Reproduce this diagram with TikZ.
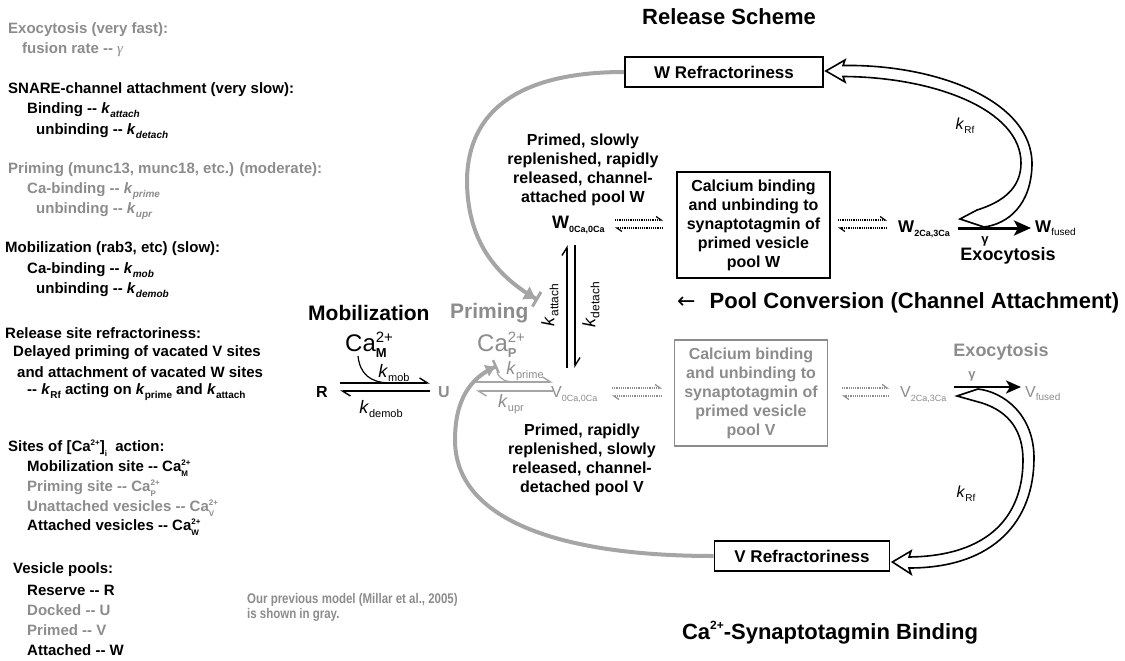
\documentclass[tikz,border=0pt]{standalone}
\usepackage{fontspec}
\setmainfont{Liberation Sans}
\newfontfamily\dejavu{DejaVu Sans}
\newfontfamily\timesf{Liberation Serif}
\usetikzlibrary{arrows.meta}
\definecolor{tg}{RGB}{140,140,140}
\definecolor{cg}{RGB}{165,165,165}
\newcommand{\fs}[1]{\fontsize{#1}{#1}\selectfont}
\newcommand{\sbb}[2][10]{\raisebox{-0.25em}{\fs{#1}#2}}
\newcommand{\cas}[2]{Ca\makebox[0pt][l]{\raisebox{-0.3em}{\fs{8}#1}}\raisebox{0.45em}{\fs{8}#2}}
\newcommand{\kit}[1]{\textit{k}\sbb{\textit{#1}}}
\newcommand{\kup}[1]{\textit{k}\sbb{#1}}
\begin{document}
\begin{tikzpicture}[x=1pt,y=-1pt,
  lt/.style={anchor=west,inner sep=0pt,font=\fs{15}\bfseries},
  hp/.style={line width=1.4pt,-{Straight Barb[left,length=8pt,width=10pt]}},
  dhp/.style={line width=1.2pt,densely dotted,-{Straight Barb[left,length=5pt,width=7pt]}},
  gcurve/.style={cg,line width=4pt,-{Triangle[length=11pt,width=14pt]Bar[width=17pt,line width=3pt]}},
  blk/.style={draw,line width=1.6pt,fill=white,line join=miter},
  klab/.style={inner sep=0pt,font=\fs{18}},
  desc/.style={align=center,inner sep=0pt,font=\fontsize{16}{19}\selectfont\bfseries},
  cbox/.style={draw,line width=1.8pt,minimum width=153pt,minimum height=106pt,align=center,inner sep=0pt,font=\fontsize{16}{19}\selectfont\bfseries},
  rbox/.style={draw,line width=1.8pt,minimum height=30pt,inner sep=0pt,font=\fs{17}\bfseries}]
\useasboundingbox (0,0) rectangle (1125,661);

% ---------------- left column ----------------
\node[lt,tg] (l1) at (8,30) {Exocytosis (very fast):};
\node[lt,tg] (l2) at (22,50) {fusion rate -{}- {\timesf\mdseries\itshape γ}};
\node[lt] (l3) at (8,90) {SNARE-channel attachment (very slow):};
\node[lt] (l4) at (27,110) {Binding -{}- \kit{attach}};
\node[lt] (l5) at (36,131) {unbinding -{}- \kit{detach}};
\node[lt,tg] (l6) at (8,170) {Priming (munc13, munc18, etc.) (moderate):};
\node[lt,tg] (l7) at (27,191) {Ca-binding -{}- \kit{prime}};
\node[lt,tg] (l8) at (36,211) {unbinding -{}- \kit{upr}};
\node[lt] (l9) at (5,249) {Mobilization (rab3, etc) (slow):};
\node[lt] (l10) at (27,270) {Ca-binding -{}- \kit{mob}};
\node[lt] (l11) at (36,290) {unbinding -{}- \kit{demob}};
\node[lt] (l12) at (5,333) {Release site refractoriness:};
\node[lt] (l13) at (13,353) {Delayed priming of vacated V sites};
\node[lt] (l14) at (17,372) {and attachment of vacated W sites};
\node[lt] (l15) at (27,392) {-{}- \kup{Rf} acting on \kup{prime} and \kup{attach}};
\node[lt] (l16) at (8,448) {Sites of [Ca\raisebox{0.45em}{\fs{8}2+}]\raisebox{-0.3em}{\fs{8}i}\ \ action:};
\node[lt] (l17) at (27,468) {Mobilization site -{}- \cas{M}{2+}};
\node[lt,tg] (l18) at (27,488) {Priming site -{}- \cas{P}{2+}};
\node[lt,tg] (l19) at (27,508) {Unattached vesicles -{}- \cas{V}{2+}};
\node[lt] (l20) at (27,527) {Attached vesicles -{}- \cas{W}{2+}};
\node[lt] (l21) at (13,570) {Vesicle pools:};
\node[lt] (l22) at (27,590) {Reserve -{}- R};
\node[lt,tg] (l23) at (27,610) {Docked -{}- U};
\node[lt,tg] (l24) at (27,630) {Primed -{}- V};
\node[lt] (l25) at (27,650) {Attached -{}- W};

\node[anchor=west,inner sep=0pt,tg,font=\fontsize{14}{15}\selectfont\bfseries,align=left,xscale=0.82] (note) at (247,607) {Our previous model (Millar et al., 2005)\\is shown in gray.};

% ---------------- titles ----------------
\node[font=\fs{22}\bfseries] (t1) at (729,17) {Release Scheme};
\node[font=\fs{22}\bfseries] (t2) at (830,633) {Ca\raisebox{0.45em}{\fs{12}2+}-Synaptotagmin Binding};

% ---------------- boxes ----------------
\node[rbox,minimum width=198pt] (wref) at (724,72) {W Refractoriness};
\node[rbox,minimum width=175pt] (vref) at (802,556) {V Refractoriness};
\node[cbox] (wbox) at (753.5,225) {Calcium binding\\and unbinding to\\synaptotagmin of\\primed vesicle\\pool W};
\node[cbox,draw=tg,text=tg] (vbox) at (751,393) {Calcium binding\\and unbinding to\\synaptotagmin of\\primed vesicle\\pool V};

\node[desc] (wdesc) at (583,170) {Primed, slowly\\replenished, rapidly\\released, channel-\\attached pool W};
\node[desc] (vdesc) at (582,460) {Primed, rapidly\\replenished, slowly\\released, channel-\\detached pool V};

% ---------------- W row ----------------
\node[anchor=base west,inner sep=0pt,font=\fs{18}\bfseries] (w0) at (552,228) {W\raisebox{-4pt}{\fs{9}0Ca,0Ca}};
\node[anchor=base west,inner sep=0pt,font=\fs{17}\bfseries] (w2) at (898,232) {W\raisebox{-4pt}{\fs{9}2Ca,3Ca}};
\node[anchor=base west,inner sep=0pt,font=\fs{17}\bfseries] (wf) at (1035,232) {W\raisebox{-3pt}{\fs{10}\mdseries fused}};
\node[font=\fs{13}\bfseries,inner sep=0pt] (gw) at (985,241) {γ};
\node[font=\fs{18}\bfseries,inner sep=0pt] (exw) at (1008,256) {Exocytosis};
\node[anchor=west,inner sep=0pt,font=\fs{22}\bfseries] (pc) at (677,303) {{\dejavu\mdseries ←}\hspace{14pt}Pool Conversion (Channel Attachment)};

\coordinate (wa1) at (615,220); \coordinate (wa2) at (663,220);
\coordinate (wa3) at (663,228); \coordinate (wa4) at (615,228);
\draw[dhp] (wa1) -- (wa2); \draw[dhp] (wa3) -- (wa4);
\coordinate (wb1) at (838,220); \coordinate (wb2) at (887,220);
\coordinate (wb3) at (887,228); \coordinate (wb4) at (838,228);
\draw[dhp] (wb1) -- (wb2); \draw[dhp] (wb3) -- (wb4);
\coordinate (wx1) at (958,228); \coordinate (wx2) at (1031,228);
\draw[line width=3pt,-{Stealth[length=17pt,width=15pt,inset=4pt]}] (wx1) -- (wx2);

% ---------------- V row ----------------
\node[anchor=base west,inner sep=0pt,tg,font=\fs{16}] (v0) at (551,397) {V\raisebox{-4pt}{\fs{9}0Ca,0Ca}};
\node[anchor=base west,inner sep=0pt,tg,font=\fs{16}] (v2) at (900,397) {V\raisebox{-4pt}{\fs{9}2Ca,3Ca}};
\node[anchor=base west,inner sep=0pt,tg,font=\fs{16}] (vf) at (1025,397) {V\raisebox{-3pt}{\fs{10}fused}};
\node[font=\fs{13}\bfseries,inner sep=0pt,tg] (gv) at (972,376) {γ};
\node[font=\fs{18}\bfseries,inner sep=0pt,tg] (exv) at (1001,352) {Exocytosis};
\coordinate (va1) at (612,388); \coordinate (va2) at (662,388);
\coordinate (va3) at (662,396); \coordinate (va4) at (612,396);
\draw[dhp,tg] (va1) -- (va2); \draw[dhp,tg] (va3) -- (va4);
\coordinate (vb1) at (842,388); \coordinate (vb2) at (889,388);
\coordinate (vb3) at (889,396); \coordinate (vb4) at (842,396);
\draw[dhp,tg] (vb1) -- (vb2); \draw[dhp,tg] (vb3) -- (vb4);
\coordinate (vx1) at (954,387); \coordinate (vx2) at (1021,387);
\draw[line width=2.6pt,-{Stealth[length=15pt,width=13pt,inset=4pt]}] (vx1) -- (vx2);

% ---------------- mobilization / priming ----------------
\node[anchor=west,inner sep=0pt,font=\fs{21}\bfseries] (mob) at (308,313) {Mobilization};
\node[anchor=west,inner sep=0pt,font=\fs{21}\bfseries,tg] (prim) at (450,313) {Priming};
\node[anchor=base west,inner sep=0pt,font=\fs{24}] (caM) at (345,351) {Ca\makebox[0pt][l]{\raisebox{-6pt}{\fs{13}\bfseries M}}\raisebox{9pt}{\fs{15}2+}};
\node[anchor=base west,inner sep=0pt,font=\fs{24},tg] (caP) at (477,351) {Ca\makebox[0pt][l]{\raisebox{-6pt}{\fs{13}\bfseries P}}\raisebox{9pt}{\fs{15}2+}};
\node[font=\fs{16}\bfseries,inner sep=0pt] (R) at (322,392) {R};
\node[font=\fs{16}\bfseries,inner sep=0pt,tg] (U) at (444,392) {U};

\coordinate (ru1) at (340,383); \coordinate (ru2) at (430,383);
\coordinate (ru3) at (430,391); \coordinate (ru4) at (340,391);
\draw[hp] (ru1) -- (ru2); \draw[hp] (ru3) -- (ru4);
\coordinate (cm0) at (358,356);
\draw[line width=1.2pt] (cm0) .. controls (360,374) and (370,382) .. (388,383);
\node[klab] (kmob) at (394,373) {\textit{k}\raisebox{-4pt}{\fs{11}mob}};
\node[klab] (kdemob) at (381,409) {\textit{k}\raisebox{-4pt}{\fs{11}demob}};

\coordinate (uv1) at (476,382); \coordinate (uv2) at (553,382);
\coordinate (uv3) at (553,391); \coordinate (uv4) at (476,391);
\draw[hp,cg] (uv1) -- (uv2); \draw[hp,cg] (uv3) -- (uv4);
\coordinate (cp0) at (497,372);
\draw[line width=1.2pt,cg] (cp0) .. controls (500,380) and (506,382) .. (516,382);
\node[klab,tg] (kprime) at (525,371) {\textit{k}\raisebox{-4pt}{\fs{11}prime}};
\node[klab,tg] (kupr) at (511,404) {\textit{k}\raisebox{-4pt}{\fs{11}upr}};

% ---------------- attach / detach ----------------
\coordinate (at1) at (567,368); \coordinate (at2) at (567,245);
\coordinate (dt1) at (575,245); \coordinate (dt2) at (575,368);
\draw[hp] (at1) -- (at2); \draw[hp] (dt1) -- (dt2);
\node[klab,rotate=90] (katt) at (550,305) {\textit{k}\raisebox{-4pt}{\fs{12}attach}};
\node[klab,rotate=90] (kdet) at (591,305) {\textit{k}\raisebox{-4pt}{\fs{12}detach}};

% ---------------- gray refractoriness curves ----------------
\coordinate (gT) at (538,300);
\draw[gcurve] (wref.west) .. controls (520,72) and (468,110) .. (467,180) .. controls (467,240) and (495,275) .. (gT);
\coordinate (gB) at (497,366);
\draw[gcurve,-{Triangle[length=9pt,width=12pt]Bar[width=14pt,line width=2.5pt]}] (vref.west) .. controls (560,556) and (455,520) .. (455,440) .. controls (455,400) and (470,378) .. (gB);

% ---------------- block arrows k_Rf ----------------
\draw[blk] (wref.east) ++(2,-1) -- (845,60) -- (843,65.5)
  .. controls (935,64) and (1033,100) .. (1032,165)
  .. controls (1031,205) and (1008,224) .. (984,227)
  -- (960,219) -- (977,210)
  .. controls (1003,202) and (1021,188) .. (1021,163)
  .. controls (1021,110) and (935,77) .. (843,76.5)
  -- (845,82) -- cycle;
\node[klab,font=\fs{16}] (krf1) at (965,126) {\textit{k}\raisebox{-4pt}{\fs{10}Rf}};

\draw[blk] (vref.east) ++(2,6) -- (911,574) -- (909,568)
  .. controls (995,568) and (1034,520) .. (1034,458)
  .. controls (1034,415) and (1004,392) .. (978,389)
  -- (957,396) -- (982,403)
  .. controls (1010,412) and (1023,432) .. (1023,460)
  .. controls (1023,515) and (990,556) .. (909,557)
  -- (911,551) -- cycle;
\node[klab,font=\fs{16}] (krf2) at (966,494) {\textit{k}\raisebox{-4pt}{\fs{10}Rf}};
\end{tikzpicture}
\end{document}
